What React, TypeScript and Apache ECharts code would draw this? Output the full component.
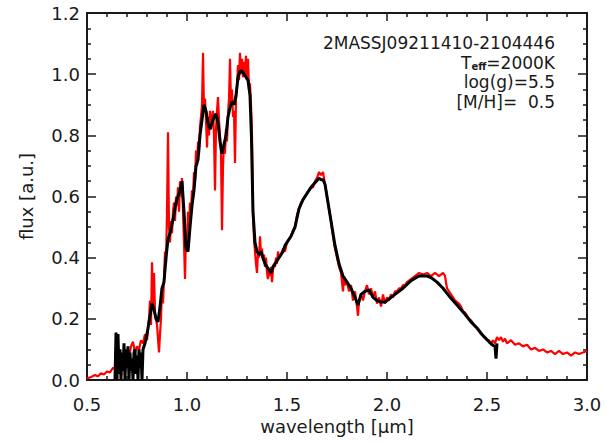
import React, { useEffect, useRef } from "react";
import * as echarts from "echarts";

// Observed spectrum (red): [wavelength µm, flux a.u.]
const observedSpectrum: [number, number][] = [
  [0.50, 0.005], [0.52, 0.010], [0.54, 0.016], [0.555, 0.012], [0.57, 0.022], [0.585, 0.018],
  [0.60, 0.028], [0.615, 0.025], [0.63, 0.040], [0.645, 0.035], [0.66, 0.055], [0.675, 0.050],
  [0.69, 0.065], [0.70, 0.080], [0.71, 0.072], [0.72, 0.11], [0.73, 0.125], [0.74, 0.09],
  [0.75, 0.11], [0.76, 0.10], [0.77, 0.13], [0.78, 0.12], [0.79, 0.15], [0.80, 0.13],
  [0.81, 0.20], [0.815, 0.26], [0.82, 0.18], [0.825, 0.385], [0.83, 0.25], [0.835, 0.35],
  [0.84, 0.22], [0.85, 0.18], [0.86, 0.09], [0.865, 0.15], [0.87, 0.20], [0.875, 0.30],
  [0.88, 0.25], [0.885, 0.33], [0.89, 0.42], [0.895, 0.38], [0.90, 0.55], [0.905, 0.81],
  [0.91, 0.50], [0.915, 0.45], [0.92, 0.52], [0.925, 0.48], [0.93, 0.55], [0.935, 0.58],
  [0.94, 0.52], [0.945, 0.60], [0.95, 0.57], [0.955, 0.63], [0.96, 0.55], [0.965, 0.65],
  [0.97, 0.60], [0.975, 0.66], [0.98, 0.55], [0.985, 0.45], [0.99, 0.33], [0.995, 0.48],
  [1.00, 0.44], [1.005, 0.55], [1.01, 0.50], [1.015, 0.58], [1.02, 0.55], [1.025, 0.62],
  [1.03, 0.60], [1.035, 0.68], [1.04, 0.65], [1.045, 0.75], [1.05, 0.70], [1.055, 0.78],
  [1.06, 0.74], [1.065, 0.83], [1.07, 0.86], [1.075, 0.90], [1.08, 1.07], [1.085, 0.88],
  [1.09, 0.92], [1.095, 0.85], [1.10, 0.76], [1.105, 0.86], [1.11, 0.80], [1.115, 0.88],
  [1.12, 0.82], [1.125, 0.86], [1.13, 0.88], [1.135, 0.80], [1.14, 0.62], [1.145, 0.82],
  [1.15, 0.88], [1.155, 0.925], [1.16, 0.85], [1.165, 0.80], [1.17, 0.74], [1.175, 0.49],
  [1.18, 0.70], [1.185, 0.78], [1.19, 0.74], [1.195, 0.82], [1.20, 0.78], [1.205, 0.87],
  [1.21, 0.92], [1.215, 1.05], [1.22, 0.90], [1.225, 0.95], [1.23, 0.86], [1.235, 0.88],
  [1.24, 0.71], [1.245, 0.92], [1.25, 0.96], [1.255, 1.03], [1.26, 0.98], [1.265, 1.07],
  [1.27, 1.00], [1.275, 1.05], [1.28, 0.99], [1.285, 1.04], [1.29, 1.00], [1.295, 1.06],
  [1.30, 0.98], [1.305, 1.05], [1.31, 0.95], [1.315, 0.97], [1.32, 0.90], [1.325, 0.80],
  [1.33, 0.55], [1.335, 0.46], [1.34, 0.42], [1.345, 0.38], [1.35, 0.35], [1.355, 0.42],
  [1.36, 0.40], [1.365, 0.47], [1.37, 0.41], [1.375, 0.43], [1.38, 0.39], [1.385, 0.41],
  [1.39, 0.37], [1.395, 0.40], [1.40, 0.35], [1.405, 0.33], [1.41, 0.36], [1.415, 0.34],
  [1.42, 0.37], [1.425, 0.32], [1.43, 0.36], [1.435, 0.38], [1.44, 0.37], [1.445, 0.40],
  [1.45, 0.38], [1.455, 0.42], [1.46, 0.40], [1.47, 0.41], [1.48, 0.43], [1.49, 0.42],
  [1.50, 0.45], [1.51, 0.46], [1.52, 0.47], [1.53, 0.49], [1.54, 0.50], [1.55, 0.54],
  [1.56, 0.56], [1.57, 0.58], [1.58, 0.59], [1.59, 0.60], [1.60, 0.61], [1.61, 0.62],
  [1.62, 0.63], [1.63, 0.63], [1.64, 0.65], [1.65, 0.66], [1.66, 0.68], [1.67, 0.67],
  [1.68, 0.68], [1.69, 0.64], [1.70, 0.60], [1.71, 0.56], [1.72, 0.52], [1.73, 0.47],
  [1.74, 0.43], [1.75, 0.40], [1.76, 0.37], [1.77, 0.35], [1.78, 0.29], [1.785, 0.34],
  [1.79, 0.31], [1.80, 0.32], [1.81, 0.29], [1.82, 0.31], [1.83, 0.26], [1.84, 0.29],
  [1.85, 0.24], [1.855, 0.21], [1.86, 0.26], [1.87, 0.28], [1.88, 0.26], [1.89, 0.29],
  [1.90, 0.31], [1.91, 0.28], [1.92, 0.30], [1.93, 0.27], [1.94, 0.29], [1.95, 0.25],
  [1.96, 0.27], [1.97, 0.24], [1.98, 0.28], [1.99, 0.25], [2.00, 0.27], [2.01, 0.26],
  [2.02, 0.28], [2.03, 0.27], [2.04, 0.29], [2.05, 0.29], [2.06, 0.30], [2.07, 0.30],
  [2.08, 0.31], [2.09, 0.31], [2.10, 0.32], [2.12, 0.33], [2.14, 0.34], [2.16, 0.35],
  [2.18, 0.345], [2.20, 0.35], [2.22, 0.34], [2.24, 0.35], [2.26, 0.34], [2.28, 0.35],
  [2.29, 0.34], [2.30, 0.30], [2.31, 0.29], [2.32, 0.28], [2.33, 0.27], [2.34, 0.26],
  [2.35, 0.255], [2.36, 0.25], [2.37, 0.24], [2.38, 0.225], [2.39, 0.22], [2.40, 0.21],
  [2.41, 0.20], [2.42, 0.195], [2.43, 0.185], [2.44, 0.175], [2.45, 0.17], [2.46, 0.16],
  [2.47, 0.15], [2.48, 0.145], [2.49, 0.14], [2.50, 0.13], [2.51, 0.13], [2.52, 0.12],
  [2.53, 0.13], [2.54, 0.12], [2.55, 0.14], [2.56, 0.13], [2.57, 0.14], [2.58, 0.125],
  [2.59, 0.135], [2.60, 0.12], [2.62, 0.13], [2.64, 0.115], [2.66, 0.12], [2.68, 0.11],
  [2.70, 0.115], [2.72, 0.10], [2.74, 0.105], [2.76, 0.095], [2.78, 0.10], [2.80, 0.09],
  [2.82, 0.095], [2.84, 0.085], [2.86, 0.095], [2.88, 0.085], [2.90, 0.09], [2.92, 0.08],
  [2.94, 0.09], [2.96, 0.085], [2.98, 0.09], [3.00, 0.095],
];

// Model spectrum (black): [wavelength µm, flux a.u.]
const modelSpectrum: [number, number][] = [
  [0.64, 0.0], [0.645, 0.155], [0.65, 0.0], [0.655, 0.15], [0.66, 0.02], [0.665, 0.10],
  [0.67, 0.0], [0.675, 0.09], [0.68, 0.03], [0.685, 0.12], [0.69, 0.0], [0.695, 0.10],
  [0.70, 0.04], [0.705, 0.11], [0.71, 0.0], [0.715, 0.09], [0.72, 0.03], [0.725, 0.07],
  [0.73, 0.0], [0.735, 0.09], [0.74, 0.10], [0.745, 0.02], [0.75, 0.08], [0.755, 0.0],
  [0.76, 0.10], [0.765, 0.04], [0.77, 0.09], [0.775, 0.0], [0.78, 0.10], [0.79, 0.12],
  [0.80, 0.15], [0.81, 0.19], [0.825, 0.25], [0.835, 0.23], [0.845, 0.20], [0.855, 0.19],
  [0.865, 0.24], [0.875, 0.30], [0.885, 0.32], [0.895, 0.40], [0.905, 0.46], [0.915, 0.48],
  [0.925, 0.51], [0.935, 0.54], [0.945, 0.58], [0.955, 0.60], [0.965, 0.62], [0.975, 0.65],
  [0.985, 0.55], [0.995, 0.43], [1.005, 0.42], [1.015, 0.50], [1.025, 0.57], [1.035, 0.62],
  [1.045, 0.70], [1.055, 0.72], [1.065, 0.80], [1.075, 0.85], [1.085, 0.90], [1.095, 0.88],
  [1.105, 0.84], [1.115, 0.82], [1.125, 0.84], [1.135, 0.86], [1.145, 0.87], [1.155, 0.84],
  [1.165, 0.78], [1.175, 0.74], [1.185, 0.77], [1.195, 0.80], [1.205, 0.86], [1.215, 0.89],
  [1.225, 0.91], [1.235, 0.90], [1.245, 0.93], [1.255, 0.99], [1.265, 1.01], [1.275, 1.01],
  [1.285, 1.00], [1.295, 0.99], [1.305, 0.98], [1.315, 0.93], [1.322, 0.80], [1.33, 0.55],
  [1.34, 0.45], [1.35, 0.42], [1.36, 0.41], [1.37, 0.42], [1.38, 0.40], [1.39, 0.38],
  [1.40, 0.37], [1.41, 0.36], [1.42, 0.35], [1.43, 0.37], [1.44, 0.38], [1.45, 0.39],
  [1.46, 0.40], [1.47, 0.41], [1.48, 0.42], [1.49, 0.44], [1.50, 0.45], [1.52, 0.47],
  [1.54, 0.50], [1.56, 0.56], [1.58, 0.59], [1.60, 0.61], [1.62, 0.63], [1.64, 0.645],
  [1.66, 0.66], [1.67, 0.655], [1.68, 0.655], [1.69, 0.64], [1.70, 0.60], [1.72, 0.52],
  [1.74, 0.44], [1.76, 0.38], [1.78, 0.34], [1.80, 0.32], [1.82, 0.30], [1.84, 0.27],
  [1.855, 0.245], [1.87, 0.28], [1.89, 0.29], [1.91, 0.295], [1.93, 0.27], [1.95, 0.26],
  [1.97, 0.255], [1.99, 0.255], [2.01, 0.265], [2.04, 0.28], [2.08, 0.30], [2.12, 0.325],
  [2.16, 0.34], [2.20, 0.34], [2.22, 0.335], [2.25, 0.32], [2.28, 0.30], [2.31, 0.275],
  [2.35, 0.245], [2.39, 0.215], [2.42, 0.19], [2.45, 0.17], [2.48, 0.145], [2.51, 0.125],
  [2.53, 0.113], [2.54, 0.11], [2.545, 0.07], [2.55, 0.12],
];

const annotationLines: string[] = [
  "2MASSJ09211410-2104446",
  "{a|T}{s|eff}{a|=2000K}",
  "log(g)=5.5",
  "[M/H]=  0.5",
];

const xTitle = "wavelength [μm]";
const yTitle = "flux [a.u.]";

const FONT = "DejaVu Sans";
const INK = "#1a1a1a";

export default function App() {
  const ref = useRef<HTMLDivElement>(null);

  useEffect(() => {
    document.body.style.margin = "0";
    const chart = echarts.init(ref.current!, undefined, { renderer: "svg" });

    const axisLine = { show: true, onZero: false, lineStyle: { color: INK, width: 2 } };
    const tickLine = { color: INK, width: 1.5 };

    const xBase = {
      type: "value" as const,
      min: 0.5,
      max: 3.0,
      interval: 0.5,
      axisLine,
      axisTick: { show: true, inside: true, length: 8, lineStyle: tickLine },
      minorTick: { show: true, splitNumber: 5, length: 4, lineStyle: tickLine },
      splitLine: { show: false },
      minorSplitLine: { show: false },
    };
    const yBase = {
      type: "value" as const,
      min: 0,
      max: 1.2,
      interval: 0.2,
      axisLine,
      axisTick: { show: true, inside: true, length: 9, lineStyle: tickLine },
      minorTick: { show: true, splitNumber: 4, length: 4, lineStyle: tickLine },
      splitLine: { show: false },
      minorSplitLine: { show: false },
    };

    const lineYs = [43, 62.5, 82, 101.5];

    chart.setOption({
      animation: false,
      backgroundColor: "#ffffff",
      grid: { left: 87, top: 13, width: 500, height: 367, containLabel: false },
      xAxis: [
        {
          ...xBase,
          position: "bottom",
          axisLabel: {
            formatter: (v: number) => v.toFixed(1),
            fontSize: 18,
            fontFamily: FONT,
            color: INK,
            margin: 15,
          },
          name: xTitle,
          nameLocation: "middle",
          nameGap: 35,
          nameTextStyle: { fontSize: 18, fontFamily: FONT, color: INK },
        },
        { ...xBase, position: "top", axisLabel: { show: false } },
      ],
      yAxis: [
        {
          ...yBase,
          position: "left",
          axisLabel: {
            formatter: (v: number) => v.toFixed(1),
            fontSize: 18,
            fontFamily: FONT,
            color: INK,
            margin: 7,
          },
          name: yTitle,
          nameLocation: "middle",
          nameGap: 52,
          nameRotate: 90,
          nameTextStyle: { fontSize: 18, fontFamily: FONT, color: INK },
        },
        { ...yBase, position: "right", axisLabel: { show: false } },
      ],
      series: [
        {
          type: "line",
          data: observedSpectrum,
          showSymbol: false,
          symbol: "none",
          lineStyle: { color: "#ff0000", width: 2.2 },
          z: 2,
        },
        {
          type: "line",
          data: modelSpectrum,
          showSymbol: false,
          symbol: "none",
          lineStyle: { color: "#000000", width: 3 },
          z: 3,
        },
      ],
      graphic: annotationLines.map((t, i) => ({
        type: "text",
        x: 555,
        y: lineYs[i],
        z: 10,
        style: {
          text: t,
          align: "right",
          verticalAlign: "middle",
          fontSize: 17,
          fontFamily: FONT,
          fill: INK,
          rich: {
            a: { fontSize: 17, fontFamily: FONT, fill: INK, lineHeight: 18 },
            s: { fontSize: 10, fontWeight: "bold", fontFamily: FONT, fill: INK, verticalAlign: "bottom", lineHeight: 18 },
          },
        },
      })),
    });

    return () => chart.dispose();
  }, []);

  return (
    <div
      ref={ref}
      style={{ position: "absolute", left: 0, top: 0, width: 606, height: 444 }}
    />
  );
}
